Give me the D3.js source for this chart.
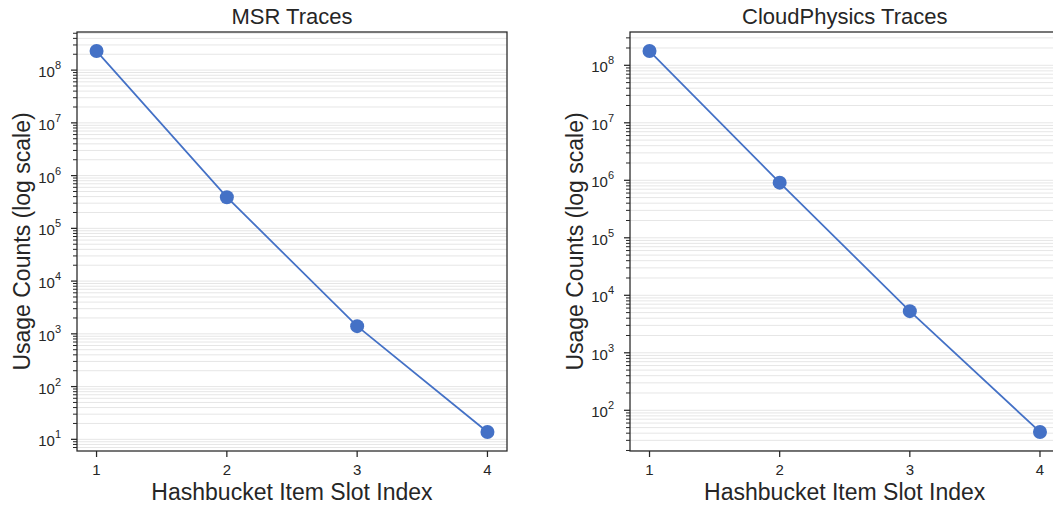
<!DOCTYPE html>
<html>
<head>
<meta charset="utf-8">
<script src="https://cdn.jsdelivr.net/npm/d3@7"></script>
<style>
  body { margin: 0; background: #fff; }
  text { font-family: "Liberation Sans", Arial, sans-serif; fill: #262626; }
</style>
</head>
<body>
<svg id="chart" width="1053" height="506"></svg>
<script>
var slots = [1, 2, 3, 4];
var msrCounts = [2.3e8, 3.9e5, 1.4e3, 13.8];
var cloudCounts = [1.77e8, 9.1e5, 5.3e3, 42];
var titles = ['MSR Traces', 'CloudPhysics Traces'];
var xLabel = 'Hashbucket Item Slot Index';
var yLabel = 'Usage Counts (log scale)';

var LINE_COLOR = '#4471c6';
var svg = d3.select('#chart');

function panel(left, width, title, counts) {
  var top = 32, bottom = 451;
  var g = svg.append('g');

  // matplotlib style 5% margins
  var x = d3.scaleLinear().domain([0.85, 4.15]).range([left, left + width]);
  var lo = Math.log10(d3.min(counts)), hi = Math.log10(d3.max(counts));
  var m = (hi - lo) * 0.05;
  var y = d3.scaleLog()
    .domain([Math.pow(10, lo - m), Math.pow(10, hi + m)])
    .range([bottom, top]);

  // minor + major ticks in range
  var all = [];
  for (var e = Math.floor(lo - m); e <= Math.ceil(hi + m); e++) {
    for (var k = 1; k < 10; k++) {
      var v = k * Math.pow(10, e);
      if (v >= y.domain()[0] && v <= y.domain()[1]) all.push({ v: v, major: k === 1, e: e });
    }
  }

  // gridlines
  g.selectAll('.grid').data(all).enter().append('line')
    .attr('x1', left).attr('x2', left + width)
    .attr('y1', function (d) { return y(d.v); })
    .attr('y2', function (d) { return y(d.v); })
    .attr('stroke', '#e6e6e6').attr('stroke-width', 1);

  // spines
  g.append('rect')
    .attr('x', left).attr('y', top)
    .attr('width', width).attr('height', bottom - top)
    .attr('fill', 'none').attr('stroke', '#262626').attr('stroke-width', 1.25);

  // y ticks
  g.selectAll('.yt').data(all).enter().append('line')
    .attr('x1', function (d) { return left - (d.major ? 6 : 4); })
    .attr('x2', left)
    .attr('y1', function (d) { return y(d.v); })
    .attr('y2', function (d) { return y(d.v); })
    .attr('stroke', '#262626').attr('stroke-width', function (d) { return d.major ? 1.25 : 1; });

  var labels = g.selectAll('.yl').data(all.filter(function (d) { return d.major; }))
    .enter().append('text')
    .attr('x', left - 16)
    .attr('y', function (d) { return y(d.v) + 7; })
    .attr('text-anchor', 'end')
    .style('font-size', '15px');
  labels.append('tspan').text('10');
  labels.append('tspan').attr('dy', -8).style('font-size', '11px')
    .text(function (d) { return d.e; });

  // x ticks
  g.selectAll('.xt').data(slots).enter().append('line')
    .attr('x1', function (d) { return x(d); })
    .attr('x2', function (d) { return x(d); })
    .attr('y1', bottom).attr('y2', bottom + 6)
    .attr('stroke', '#262626').attr('stroke-width', 1.25);
  g.selectAll('.xl').data(slots).enter().append('text')
    .attr('x', function (d) { return x(d); })
    .attr('y', bottom + 24)
    .attr('text-anchor', 'middle')
    .style('font-size', '15px')
    .text(function (d) { return d; });

  // line + markers
  var pts = slots.map(function (s, i) { return [s, counts[i]]; });
  g.append('path')
    .datum(pts)
    .attr('d', d3.line().x(function (d) { return x(d[0]); }).y(function (d) { return y(d[1]); }))
    .attr('fill', 'none').attr('stroke', LINE_COLOR).attr('stroke-width', 1.75);
  g.selectAll('.pt').data(pts).enter().append('circle')
    .attr('cx', function (d) { return x(d[0]); })
    .attr('cy', function (d) { return y(d[1]); })
    .attr('r', 7).attr('fill', LINE_COLOR);

  // titles
  g.append('text')
    .attr('x', left + width / 2).attr('y', 24)
    .attr('text-anchor', 'middle').style('font-size', '22px')
    .text(title);
  g.append('text')
    .attr('x', left + width / 2).attr('y', 500)
    .attr('text-anchor', 'middle').style('font-size', '23px')
    .text(xLabel);
  g.append('text')
    .attr('transform', 'translate(' + (left - 47) + ',' + ((top + bottom) / 2) + ') rotate(-90)')
    .attr('text-anchor', 'middle').style('font-size', '23px')
    .text(yLabel);
}

panel(77, 430, titles[0], msrCounts);
panel(630, 429.5, titles[1], cloudCounts);
</script>
</body>
</html>
